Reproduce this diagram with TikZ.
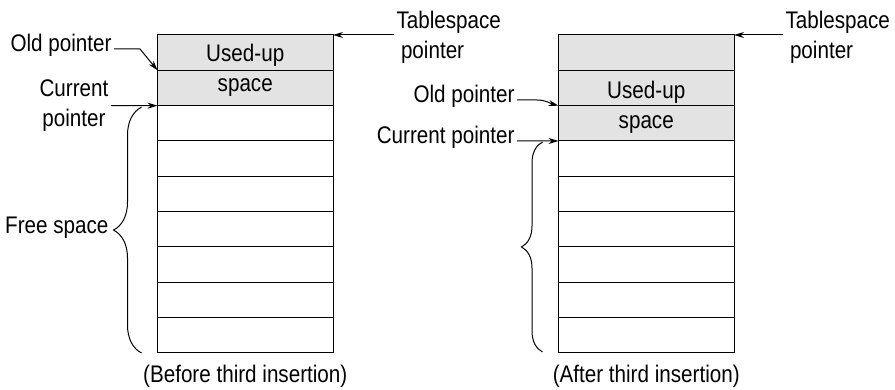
\documentclass[tikz,border=0pt]{standalone}
\usepackage{fontspec}
\setmainfont{Liberation Sans}[FakeStretch=0.86]
\usepackage{tikz}
\usetikzlibrary{arrows.meta,decorations.pathreplacing,positioning}
\tikzset{
  every picture/.style = {
    line width = 1pt,
    >={Stealth[length=10pt,width=6pt]},
    node distance = 10pt and 10pt,
  }
  ,
  slot/.style = {
    rectangle,
    draw,
    minimum width = 175.5pt,
    minimum height = 35.33pt,
    inner sep = 0pt,
    outer sep = 0pt
  }
  , % rows already taken
  used/.style = {
    slot,
    fill = black!11
  }
  , % texts of the figure
  label-text/.style = {
    font = \fontsize{24}{30}\selectfont,
    inner sep = 2pt
  }
  ,
  free-brace/.style = {
    decorate,
    decoration = {brace, amplitude = #1}
  }
}

\begin{document}
\begin{tikzpicture}[x = 1pt, y = -1pt]
\useasboundingbox (0,0) rectangle (895,390);
% before
\foreach \i in {1,2}
  \node[used] (L\i) at (245.25, {35+(\i-0.5)*35.33}) {};
\foreach \i in {3,...,9}
  \node[slot] (L\i) at (245.25, {35+(\i-0.5)*35.33}) {};
\node[label-text, align=center] (useL) at (L1.south) {Used-up\\space};
\node[label-text, anchor=mid east] (oldL) at (114,49) {Old pointer};
\node[label-text, align=center] (curL) at (74,105.67) {Current\\pointer};
\node[label-text, anchor=mid east] (freeL) at (111,231) {Free space};
\node[label-text, align=left, anchor=west] (tsL) at (394,37.5) {Tablespace\\\hspace*{4.5pt}pointer};
\node[label-text, below = of L9] (capL) {(Before third insertion)};
\draw[->] (oldL.mid east) -- ++(26,0) -- (L2.north west);
\draw[->] (curL.east) -- (L3.north west);
\draw[->] (tsL.west |- L1.north east) -- (L1.north east);
\draw[free-brace=28pt] ([xshift=-16pt]L9.south west) -- ([xshift=-16pt,yshift=-1.5pt]L3.north west);
% after
\foreach \i in {1,2,3}
  \node[used] (R\i) at (646.25, {35+(\i-0.5)*35.33}) {};
\foreach \i in {4,...,9}
  \node[slot] (R\i) at (646.25, {35+(\i-0.5)*35.33}) {};
\node[label-text, align=center] (useR) at ([yshift=-2pt]R2.south) {Used-up\\space};
\node[label-text, anchor=mid east] (oldR) at (517,100) {Old pointer};
\node[label-text, anchor=mid east] (curR) at (517,141) {Current pointer};
\node[label-text, align=left, anchor=west] (tsR) at (783,37.5) {Tablespace\\\hspace*{4.5pt}pointer};
\node[label-text, below = of R9] (capR) {(After third insertion)};
\draw[->] (oldR.mid east) -- ++(20,0) to[out=0, in=165] (R3.north west);
\draw[->] (curR.mid east) -- (R4.north west);
\draw[->] (tsR.west |- R1.north east) -- (R1.north east);
\draw[free-brace=21pt] ([xshift=-16pt,yshift=1pt]R9.south west) -- ([xshift=-16pt,yshift=-1pt]R4.north west);
\end{tikzpicture}
\end{document}
